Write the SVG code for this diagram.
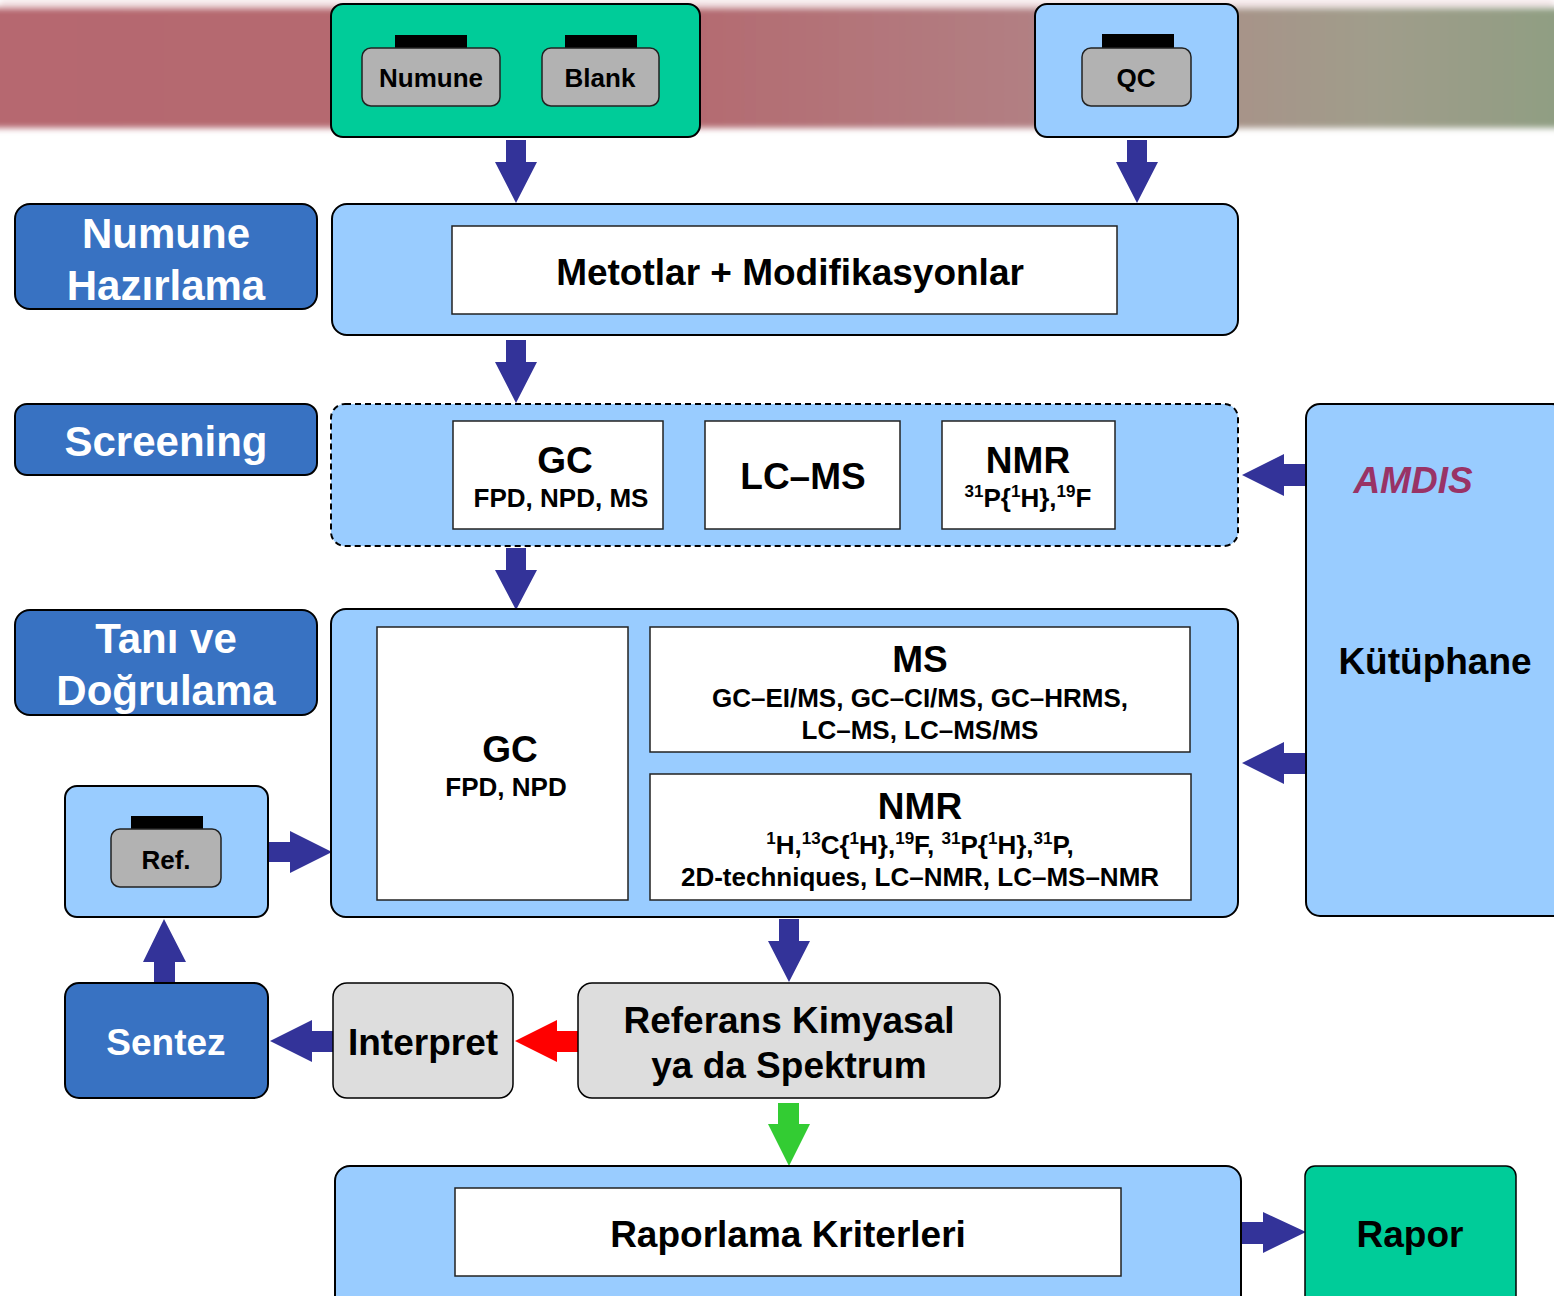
<svg xmlns="http://www.w3.org/2000/svg" width="1554" height="1296" viewBox="0 0 1554 1296">
<defs>
<linearGradient id="band" x1="0" y1="0" x2="1" y2="0">
<stop offset="0" stop-color="#b6686f"/>
<stop offset="0.45" stop-color="#b46b71"/>
<stop offset="0.65" stop-color="#b27e82"/>
<stop offset="0.78" stop-color="#a89289"/>
<stop offset="0.88" stop-color="#a09d8b"/>
<stop offset="1" stop-color="#8f9e82"/>
</linearGradient>
<filter id="blur" x="-0.05" y="-0.2" width="1.1" height="1.4"><feGaussianBlur stdDeviation="3"/></filter>
<style>
.box{stroke:#000;stroke-width:2}
.lb{fill:#99CCFF}
.gr{fill:#00CC99}
.db{fill:#3872C2}
.gy{fill:#DDDDDD}
.wh{fill:#fff;stroke:#222;stroke-width:1.5}
.vial{fill:#B2B2B2;stroke:#222;stroke-width:1.5}
.cap{fill:#000}
.arr{fill:#333399}
text{font-family:"Liberation Sans",Arial,sans-serif;font-weight:bold;text-anchor:middle;fill:#000}
.t26{font-size:26px}
.t37{font-size:37px}
.t42{font-size:42px;fill:#fff}
.w37{font-size:37px;fill:#fff}
.sup{font-size:17px}
</style>
</defs>
<rect width="1554" height="1296" fill="#fff"/>
<rect x="0" y="0" width="1554" height="8" fill="#f3e3e5" filter="url(#blur)"/>
<rect x="-10" y="8" width="1574" height="120" fill="url(#band)" filter="url(#blur)"/>

<g id="connectors">
<polygon class="arr" points="506,140 526,140 526,162 537,162 516,203 495,162 506,162"/>
<polygon class="arr" points="1127,140 1147,140 1147,162 1158,162 1137,203 1116,162 1127,162"/>
<polygon class="arr" points="506,340 526,340 526,362 537,362 516,403 495,362 506,362"/>
<polygon class="arr" points="506,548 526,548 526,570 537,570 516,610 495,570 506,570"/>
<polygon class="arr" points="1306,464 1306,486 1284,486 1284,496 1242,475 1284,454 1284,464"/>
<polygon class="arr" points="1306,753 1306,774 1284,774 1284,784 1242,763 1284,742 1284,753"/>
<polygon class="arr" points="268,842 290,842 290,831 332,852 290,873 290,862 268,862"/>
<polygon class="arr" points="154,983 154,962 143,962 164,919 186,962 175,962 175,983"/>
<polygon class="arr" points="779,919 799,919 799,941 810,941 789,982 768,941 779,941"/>
<polygon class="arr" points="333,1031 333,1052 312,1052 312,1062 270,1041 312,1020 312,1031"/>
<polygon fill="#FF0000" points="578,1031 578,1052 557,1052 557,1062 515,1041 557,1020 557,1031"/>
<polygon fill="#33CC33" points="778,1103 799,1103 799,1124 810,1124 789,1166 768,1124 778,1124"/>
<polygon class="arr" points="1241,1222 1263,1222 1263,1212 1306,1232 1263,1253 1263,1244 1241,1244"/>
</g>

<g id="sampleGroup">
<rect class="box gr" x="331" y="4" width="369" height="133" rx="12"/>
<rect class="cap" x="395" y="35" width="72" height="14"/>
<rect class="vial" x="362" y="48" width="138" height="58" rx="9"/>
<text class="t26" x="431" y="87">Numune</text>
<rect class="cap" x="565" y="35" width="72" height="14"/>
<rect class="vial" x="542" y="48" width="117" height="58" rx="9"/>
<text class="t26" x="600" y="87">Blank</text>
</g>

<g id="qc">
<rect class="box lb" x="1035" y="4" width="203" height="133" rx="12"/>
<rect class="cap" x="1102" y="34" width="72" height="14"/>
<rect class="vial" x="1082" y="48" width="109" height="58" rx="9"/>
<text class="t26" x="1136" y="87">QC</text>
</g>

<g id="label-numune">
<rect class="box db" x="15" y="204" width="302" height="105" rx="15"/>
<text class="t42" x="166" y="248">Numune</text>
<text class="t42" x="166" y="300">Hazırlama</text>
</g>

<g id="metotlar">
<rect class="box lb" x="332" y="204" width="906" height="131" rx="15"/>
<rect class="wh" x="452" y="226" width="665" height="88"/>
<text class="t37" x="790" y="285">Metotlar + Modifikasyonlar</text>
</g>

<g id="label-screening">
<rect class="box db" x="15" y="404" width="302" height="71" rx="12"/>
<text class="t42" x="166" y="456">Screening</text>
</g>

<g id="screening">
<rect class="lb" x="331" y="404" width="907" height="142" rx="14" stroke="#000" stroke-width="2" stroke-dasharray="6 4"/>
<rect class="wh" x="453" y="421" width="210" height="108"/>
<text class="t37" x="565" y="473">GC</text>
<text class="t26" x="561" y="507">FPD, NPD, MS</text>
<rect class="wh" x="705" y="421" width="195" height="108"/>
<text class="t37" x="803" y="489">LC–MS</text>
<rect class="wh" x="942" y="421" width="173" height="108"/>
<text class="t37" x="1028" y="473">NMR</text>
<text class="t26" x="1028" y="507"><tspan class="sup" dy="-10">31</tspan><tspan dy="10">P{</tspan><tspan class="sup" dy="-10">1</tspan><tspan dy="10">H},</tspan><tspan class="sup" dy="-10">19</tspan><tspan dy="10">F</tspan></text>
</g>

<g id="kutuphane">
<rect class="box lb" x="1306" y="404" width="260" height="512" rx="14"/>
<text x="1413" y="493" style="font-size:37px;font-style:italic;fill:#993366">AMDIS</text>
<text class="t37" x="1435" y="674">Kütüphane</text>
</g>

<g id="label-tani">
<rect class="box db" x="15" y="610" width="302" height="105" rx="15"/>
<text class="t42" x="166" y="653">Tanı ve</text>
<text class="t42" x="166" y="705">Doğrulama</text>
</g>

<g id="tani">
<rect class="box lb" x="331" y="609" width="907" height="308" rx="15"/>
<rect class="wh" x="377" y="627" width="251" height="273"/>
<text class="t37" x="510" y="762">GC</text>
<text class="t26" x="506" y="796">FPD, NPD</text>
<rect class="wh" x="650" y="627" width="540" height="125"/>
<text class="t37" x="920" y="672">MS</text>
<text class="t26" x="920" y="707">GC–EI/MS, GC–CI/MS, GC–HRMS,</text>
<text class="t26" x="920" y="739">LC–MS, LC–MS/MS</text>
<rect class="wh" x="650" y="774" width="541" height="126"/>
<text class="t37" x="920" y="819">NMR</text>
<text class="t26" x="920" y="854"><tspan class="sup" dy="-10">1</tspan><tspan dy="10">H,</tspan><tspan class="sup" dy="-10">13</tspan><tspan dy="10">C{</tspan><tspan class="sup" dy="-10">1</tspan><tspan dy="10">H},</tspan><tspan class="sup" dy="-10">19</tspan><tspan dy="10">F, </tspan><tspan class="sup" dy="-10">31</tspan><tspan dy="10">P{</tspan><tspan class="sup" dy="-10">1</tspan><tspan dy="10">H},</tspan><tspan class="sup" dy="-10">31</tspan><tspan dy="10">P,</tspan></text>
<text class="t26" x="920" y="886">2D-techniques, LC–NMR, LC–MS–NMR</text>
</g>

<g id="ref">
<rect class="box lb" x="65" y="786" width="203" height="131" rx="12"/>
<rect class="cap" x="131" y="816" width="72" height="14"/>
<rect class="vial" x="111" y="829" width="110" height="58" rx="9"/>
<text class="t26" x="166" y="869">Ref.</text>
</g>

<g id="sentez">
<rect class="box db" x="65" y="983" width="203" height="115" rx="14"/>
<text class="w37" x="166" y="1055">Sentez</text>
</g>

<g id="interpret">
<rect class="box gy" x="333" y="983" width="180" height="115" rx="14" style="stroke-width:1.5"/>
<text class="t37" x="423" y="1055">Interpret</text>
</g>

<g id="referans">
<rect class="box gy" x="578" y="983" width="422" height="115" rx="14" style="stroke-width:1.5"/>
<text class="t37" x="789" y="1033">Referans Kimyasal</text>
<text class="t37" x="789" y="1078">ya da Spektrum</text>
</g>

<g id="raporlama">
<rect class="box lb" x="335" y="1166" width="906" height="150" rx="15"/>
<rect class="wh" x="455" y="1188" width="666" height="88"/>
<text class="t37" x="788" y="1247">Raporlama Kriterleri</text>
</g>

<g id="rapor">
<rect class="box gr" x="1305" y="1166" width="211" height="150" rx="10" style="stroke-width:1.5"/>
<text class="t37" x="1410" y="1247">Rapor</text>
</g>
</svg>
